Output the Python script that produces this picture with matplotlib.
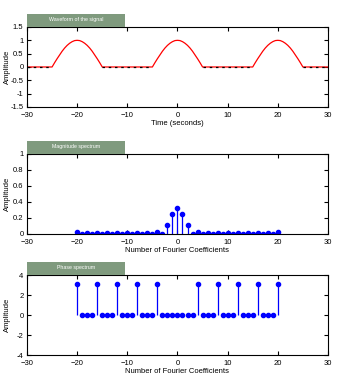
import numpy as np
import matplotlib
matplotlib.use("Agg")
import matplotlib.pyplot as plt

# ---- data ----
pulse_centers = [-20, 0, 20]
pulse_offsets = [-5.0, -4.5, -4.0, -3.5, -3.0, -2.5, -2.0, -1.5, -1.0, -0.5, 0.0,
                 0.5, 1.0, 1.5, 2.0, 2.5, 3.0, 3.5, 4.0, 4.5, 5.0]
pulse_values = [0.0, 0.16, 0.31, 0.45, 0.59, 0.71, 0.81, 0.89, 0.95, 0.99, 1.0,
                0.99, 0.95, 0.89, 0.81, 0.71, 0.59, 0.45, 0.31, 0.16, 0.0]

coef_n = list(range(-20, 21))
mag_pos = [0.33, 0.255, 0.117, 0.004, 0.03, 0.004, 0.018, 0.004, 0.018, 0.004,
           0.018, 0.004, 0.018, 0.004, 0.018, 0.004, 0.018, 0.004, 0.018, 0.004, 0.02]
magnitude = mag_pos[:0:-1] + mag_pos
phase_pos = [0, 0, 0, 0, 3.14, 0, 0, 0, 3.14, 0, 0, 0, 3.14, 0, 0, 0, 3.14, 0, 0, 0, 3.14]
phase = phase_pos[:0:-1] + phase_pos

titles = ["Waveform of the signal", "Magnitude spectrum", "Phase spectrum"]
xlabels = ["Time (seconds)", "Number of Fourier Coefficients", "Number of Fourier Coefficients"]

# build waveform from the read pulse shape
t_list = [-30.0]
x_list = [0.0]
for c in pulse_centers:
    for o, v in zip(pulse_offsets, pulse_values):
        t_list.append(c + o)
        x_list.append(v)
t_list.append(30.0)
x_list.append(0.0)
t = np.array(t_list)
x = np.array(x_list)

plt.rcParams['font.family'] = ['Liberation Sans', 'DejaVu Sans']
fig = plt.figure(figsize=(3.52, 3.78), dpi=100)

L, W, H = 0.0767, 0.855, 0.2116
bottoms = [0.717, 0.381, 0.0608]
axes = [fig.add_axes([L, b, W, H]) for b in bottoms]

fs = 5.5
blue = '#0000ff'

# waveform
ax = axes[0]
ax.plot(t, x, color='red', lw=0.9)
# black dashes along the zero-valued segments
zero_segs = [(-30, -25), (-15, -5), (5, 15), (25, 30)]
for a, b in zero_segs:
    ax.plot([a, b], [0, 0], color='black', lw=0.9, ls=(0, (2, 3)))
ax.set_ylim(-1.5, 1.5)
ax.set_yticks([-1.5, -1, -0.5, 0, 0.5, 1, 1.5])
ax.set_yticklabels(["-1.5", "-1", "-0.5", "0", "0.5", "1", "1.5"])

# magnitude
ax = axes[1]
ml, sl, bl = ax.stem(coef_n, magnitude, linefmt='-', markerfmt='o', basefmt=' ')
plt.setp(sl, color=blue, lw=0.9)
plt.setp(ml, color=blue, markersize=3)
ax.set_ylim(0, 1)
ax.set_yticks([0, 0.2, 0.4, 0.6, 0.8, 1])
ax.set_yticklabels(["0", "0.2", "0.4", "0.6", "0.8", "1"])

# phase
ax = axes[2]
ml, sl, bl = ax.stem(coef_n, phase, linefmt='-', markerfmt='o', basefmt=' ')
plt.setp(sl, color=blue, lw=0.9)
plt.setp(ml, color=blue, markersize=3)
ax.set_ylim(-4, 4)
ax.set_yticks([-4, -2, 0, 2, 4])
ax.set_yticklabels(["-4", "-2", "0", "2", "4"])

for ax, ttl, xl, b in zip(axes, titles, xlabels, bottoms):
    ax.set_xlim(-30, 30)
    ax.set_xticks([-30, -20, -10, 0, 10, 20, 30])
    ax.tick_params(direction='in', top=True, right=True, length=3, width=0.8,
                   labelsize=fs)
    ax.tick_params(axis='x', pad=3.5)
    ax.tick_params(axis='y', pad=2.5)
    for s in ax.spines.values():
        s.set_linewidth(0.8)
    ax.set_xlabel(xl, fontsize=fs, labelpad=1)
    ax.set_ylabel("Amplitude", fontsize=fs, va='center')
    ax.yaxis.set_label_coords(-0.066, 0.5)
    # title box
    bx = fig.add_axes([L, b + H, 0.278, 0.0344])
    bx.set_facecolor('#7f9a7e')
    bx.set_xticks([])
    bx.set_yticks([])
    for s in bx.spines.values():
        s.set_visible(False)
    bx.text(0.5, 0.55, ttl, color='white', fontsize=3.8, ha='center', va='center',
            transform=bx.transAxes)

fig.savefig("out.png", dpi=100)
